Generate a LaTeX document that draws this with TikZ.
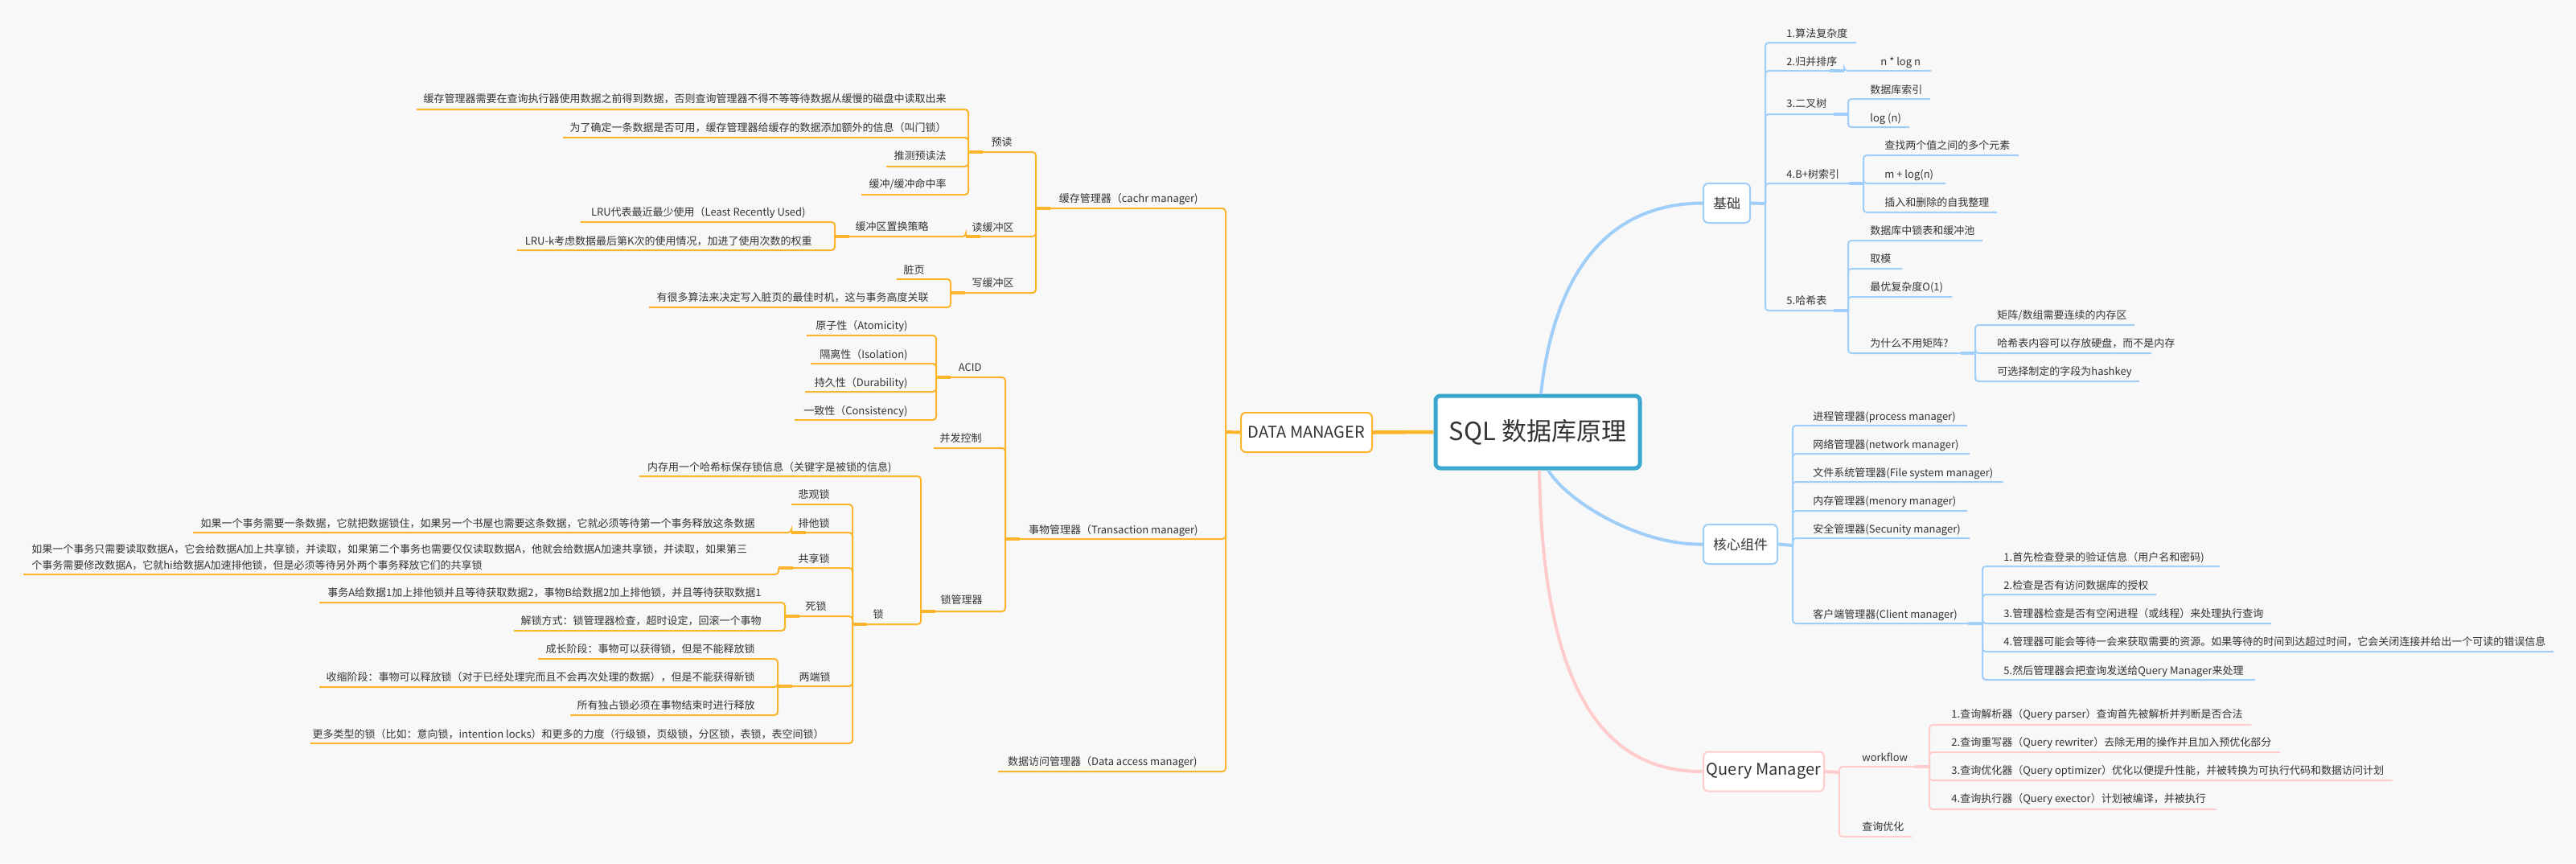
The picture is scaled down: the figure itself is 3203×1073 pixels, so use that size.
\documentclass[tikz,border=0pt]{standalone}
\usepackage{fontspec}
\setmainfont{Noto Sans CJK SC}
\definecolor{bgc}{HTML}{F8F8F8}
\definecolor{txt}{HTML}{333333}
\definecolor{orl}{HTML}{FCB52B}
\definecolor{bll}{HTML}{9FCFF8}
\definecolor{pkl}{HTML}{FFCBCB}
\definecolor{tealc}{HTML}{3BA7CE}
\tikzset{
  lbl/.style={inner sep=0pt, text=txt, font=\fontsize{6.5pt}{8pt}\selectfont, text height=5.4pt, text depth=0.5pt},
  oline/.style={draw=orl, line width=1pt, rounded corners=2pt},
  bline/.style={draw=bll, line width=1pt, rounded corners=2pt},
  pline/.style={draw=pkl, line width=1pt, rounded corners=2pt},
  ostub/.style={draw=orl, line width=2pt},
  bstub/.style={draw=bll, line width=2pt},
  pstub/.style={draw=pkl, line width=2pt},
  boxbase/.style={fill=white, rounded corners=3pt, text=txt, inner sep=0pt, minimum height=24.5pt},
}
\newcommand{\LNode}[7]{%
  \node[lbl, anchor=east] (#1) at (#2,#3) {#7};
  \coordinate (#1-j) at (#4,#5);
  \draw[oline] (#6-j) |- (#1-j);
}
\newcommand{\RNode}[8]{%
  \node[lbl, anchor=west] (#1) at (#2,#3) {#8};
  \coordinate (#1-j) at (#4,#5);
  \draw[#7] (#6-j) |- (#1-j);
}
\newcommand{\LStub}[1]{\draw[ostub] (#1-j) -- ++(18,0);}
\newcommand{\RStub}[2]{\draw[#2] (#1-j) -- ++(-18,0);}
\begin{document}
\begin{tikzpicture}[x=0.5pt,y=-0.5pt]
\fill[bgc] (0,0) rectangle (3203,1073);
\useasboundingbox (0,0) rectangle (3203,1073);

% main boxes
\node[boxbase, draw=tealc, line width=2.5pt, minimum width=127pt, minimum height=45pt, font=\fontsize{15.5pt}{18pt}\selectfont] (root) at (1912,537) {SQL 数据库原理};
\node[boxbase, draw=orl, line width=1pt, minimum width=81.5pt, font=\fontsize{10pt}{12pt}\selectfont] (dm) at (1624.5,537.5) {DATA MANAGER};
\node[boxbase, draw=bll, line width=1pt, minimum width=29pt, font=\fontsize{8.5pt}{10pt}\selectfont] (jichu) at (2147,252.5) {基础};
\node[boxbase, draw=bll, line width=1pt, minimum width=46pt, font=\fontsize{8.5pt}{10pt}\selectfont] (hexin) at (2164,676.5) {核心组件};
\node[boxbase, draw=pkl, line width=1pt, minimum width=75pt, font=\fontsize{10pt}{12pt}\selectfont] (qm) at (2193,959) {Query Manager};

% central connectors
\draw[orl, line width=2.25pt] (root.west) -- (dm.east);
\draw[bll, line width=2pt] ([xshift=2pt]root.north) .. controls (1930,360) and (1985,253) .. (jichu.west);
\draw[bll, line width=2pt] ([xshift=6.5pt]root.south) .. controls (1950,625) and (2040,678) .. (hexin.west);
\draw[pkl, line width=2pt] ([xshift=1pt]root.south) .. controls (1918,850) and (1990,960) .. (qm.west);

% ---------- DATA MANAGER (left, orange) ----------
\coordinate (dm-j) at (1524,537);
\draw[ostub] (dm.west) -- (dm-j);
\LNode{cache}{1490}{247}{1288}{259}{dm}{缓存管理器（cachr manager)}
\LNode{trans}{1490}{659}{1250}{670}{dm}{事物管理器（Transaction manager)}
\LNode{dacc}{1489}{947}{1241}{959}{dm}{数据访问管理器（Data access manager)}
\LStub{cache}\LStub{trans}

\LNode{yudu}{1259}{177}{1204}{189}{cache}{预读}
\LNode{dubuf}{1261}{283}{1201}{294}{cache}{读缓冲区}
\LNode{xiebuf}{1261}{352}{1182}{364}{cache}{写缓冲区}
\LStub{yudu}\LStub{dubuf}\LStub{xiebuf}

\LNode{y1}{1177}{123}{518}{136}{yudu}{缓存管理器需要在查询执行器使用数据之前得到数据，否则查询管理器不得不等等待数据从缓慢的磁盘中读取出来}
\LNode{y2}{1177}{159}{700}{171}{yudu}{为了确定一条数据是否可用，缓存管理器给缓存的数据添加额外的信息（叫门锁）}
\LNode{y3}{1177}{194}{1102}{207}{yudu}{推测预读法}
\LNode{y4}{1177}{229}{1071}{242}{yudu}{缓冲/缓冲命中率}

\LNode{zh}{1155}{282}{1038}{294}{dubuf}{缓冲区置换策略}
\LStub{zh}
\LNode{lru1}{1002}{264}{722}{276}{zh}{LRU代表最近最少使用（Least Recently Used)}
\LNode{lru2}{1010}{300}{643}{311}{zh}{LRU-k考虑数据最后第K次的使用情况，加进了使用次数的权重}

\LNode{zy}{1150}{336}{1115}{347}{xiebuf}{脏页}
\LNode{zy2}{1155}{370}{807}{382}{xiebuf}{有很多算法来决定写入脏页的最佳时机，这与事务高度关联}

\LNode{acid}{1221}{457}{1164}{469}{trans}{ACID}
\LNode{bf}{1221}{545}{1161}{557}{trans}{并发控制}
\LNode{lockm}{1222}{746}{1145}{760}{trans}{锁管理器}
\LStub{acid}\LStub{lockm}

\LNode{a1}{1129}{405}{1003}{417}{acid}{原子性（Atomicity)}
\LNode{a2}{1129}{441}{1008}{452}{acid}{隔离性（Isolation)}
\LNode{a3}{1129}{476}{1001}{487}{acid}{持久性（Durability)}
\LNode{a4}{1129}{511}{988}{522}{acid}{一致性（Consistency)}

\LNode{mem}{1109}{581}{795}{592}{lockm}{内存用一个哈希标保存锁信息（关键字是被锁的信息)}
\LNode{lock}{1099}{764}{1060}{776}{lockm}{锁}
\LStub{lock}

\LNode{bg}{1032}{615}{984}{627}{lock}{悲观锁}
\LNode{pt}{1032}{651}{984}{662}{lock}{排他锁}
\LNode{gx}{1032}{695}{968}{706}{lock}{共享锁}
\LNode{sl}{1028}{754}{976}{766}{lock}{死锁}
\LNode{ld}{1033}{842}{967}{853}{lock}{两端锁}
\LNode{more}{1025}{913}{386}{924}{lock}{更多类型的锁（比如：意向锁，intention locks）和更多的力度（行级锁，页级锁，分区锁，表锁，表空间锁）}
\LStub{pt}\LStub{gx}\LStub{sl}\LStub{ld}

\LNode{pt1}{939}{651}{240}{662}{pt}{如果一个事务需要一条数据，它就把数据锁住，如果另一个书屋也需要这条数据，它就必须等待第一个事务释放这条数据}

\node[inner sep=0pt, text=txt, anchor=west, font=\fontsize{6.5pt}{10pt}\selectfont] (gx1) at (39,693)
  {\begin{tabular}{@{}l@{}}如果一个事务只需要读取数据A，它会给数据A加上共享锁，并读取，如果第二个事务也需要仅仅读取数据A，他就会给数据A加速共享锁，并读取，如果第三\\个事务需要修改数据A，它就hi给数据A加速排他锁，但是必须等待另外两个事务释放它们的共享锁\end{tabular}};
\coordinate (gx1-j) at (29,714);
\draw[oline] (gx-j) |- (gx1-j);

\LNode{sl1}{947}{737}{397}{749}{sl}{事务A给数据1加上排他锁并且等待获取数据2，事物B给数据2加上排他锁，并且等待获取数据1}
\LNode{sl2}{947}{772}{639}{784}{sl}{解锁方式：锁管理器检查，超时设定，回滚一个事物}

\LNode{ld1}{939}{807}{669}{819}{ld}{成长阶段：事物可以获得锁，但是不能释放锁}
\LNode{ld2}{939}{842}{397}{854}{ld}{收缩阶段：事物可以释放锁（对于已经处理完而且不会再次处理的数据），但是不能获得新锁}
\LNode{ld3}{939}{877}{709}{889}{ld}{所有独占锁必须在事物结束时进行释放}

% ---------- 基础 (right, blue) ----------
\coordinate (jc-j) at (2195,253);
\draw[bstub] (jichu.east) -- (jc-j);
\RNode{b1}{2221}{42}{2308}{53}{jc}{bline}{1.算法复杂度}
\RNode{b2}{2221}{77}{2293}{88}{jc}{bline}{2.归并排序}
\RNode{b2a}{2338}{77}{2401}{88}{b2}{bline}{n * log n}
\RNode{b3}{2221}{129}{2298}{142}{jc}{bline}{3.二叉树}
\RNode{b3a}{2325}{112}{2400}{123}{b3}{bline}{数据库索引}
\RNode{b3b}{2325}{147}{2374}{158}{b3}{bline}{log (n)}
\RNode{b4}{2221}{217}{2317}{228}{jc}{bline}{4.B+树索引}
\RNode{b4a}{2343}{181}{2510}{193}{b4}{bline}{查找两个值之间的多个元素}
\RNode{b4b}{2343}{217}{2419}{228}{b4}{bline}{m + log(n)}
\RNode{b4c}{2343}{252}{2483}{264}{b4}{bline}{插入和删除的自我整理}
\RNode{b5}{2221}{374}{2298}{386}{jc}{bline}{5.哈希表}
\RNode{b5a}{2325}{287}{2465}{299}{b5}{bline}{数据库中锁表和缓冲池}
\RNode{b5b}{2325}{322}{2365}{334}{b5}{bline}{取模}
\RNode{b5c}{2325}{357}{2427}{369}{b5}{bline}{最优复杂度O(1)}
\RNode{b5d}{2325}{427}{2456}{439}{b5}{bline}{为什么不用矩阵?}
\RNode{b5d1}{2483}{392}{2654}{404}{b5d}{bline}{矩阵/数组需要连续的内存区}
\RNode{b5d2}{2483}{427}{2675}{439}{b5d}{bline}{哈希表内容可以存放硬盘，而不是内存}
\RNode{b5d3}{2483}{462}{2660}{474}{b5d}{bline}{可选择制定的字段为hashkey}
\RStub{b2}{bstub}\RStub{b3}{bstub}\RStub{b4}{bstub}\RStub{b5}{bstub}\RStub{b5d}{bstub}

% ---------- 核心组件 (right, blue) ----------
\coordinate (hx-j) at (2229,678);
\draw[bstub] (hexin.east) -- (hx-j);
\RNode{c1}{2254}{518}{2446}{529}{hx}{bline}{进程管理器(process manager)}
\RNode{c2}{2254}{553}{2449}{564}{hx}{bline}{网络管理器(network manager)}
\RNode{c3}{2254}{588}{2491}{599}{hx}{bline}{文件系统管理器(File system manager)}
\RNode{c4}{2254}{623}{2446}{635}{hx}{bline}{内存管理器(menory manager)}
\RNode{c5}{2254}{658}{2449}{669}{hx}{bline}{安全管理器(Secunity manager)}
\RNode{c6}{2254}{764}{2465}{775}{hx}{bline}{客户端管理器(Client manager)}
\RStub{c6}{bstub}
\RNode{c6a}{2491}{693}{2760}{704}{c6}{bline}{1.首先检查登录的验证信息（用户名和密码)}
\RNode{c6b}{2491}{728}{2681}{739}{c6}{bline}{2.检查是否有访问数据库的授权}
\RNode{c6c}{2491}{763}{2824}{775}{c6}{bline}{3.管理器检查是否有空闲进程（或线程）来处理执行查询}
\RNode{c6d}{2491}{798}{3175}{810}{c6}{bline}{4.管理器可能会等待一会来获取需要的资源。如果等待的时间到达超过时间，它会关闭连接并给出一个可读的错误信息}
\RNode{c6e}{2491}{834}{2804}{845}{c6}{bline}{5.然后管理器会把查询发送给Query Manager来处理}

% ---------- Query Manager (right, pink) ----------
\coordinate (qm-j) at (2287,960);
\draw[pstub] (qm.east) -- (qm-j);
\RNode{q1}{2315}{942}{2399}{953}{qm}{pline}{workflow}
\RStub{q1}{pstub}
\RNode{q1a}{2426}{888}{2799}{901}{q1}{pline}{1.查询解析器（Query parser）查询首先被解析并判断是否合法}
\RNode{q1b}{2426}{923}{2835}{935}{q1}{pline}{2.查询重写器（Query rewriter）去除无用的操作并且加入预优化部分}
\RNode{q1c}{2426}{958}{2975}{970}{q1}{pline}{3.查询优化器（Query optimizer）优化以便提升性能，并被转换为可执行代码和数据访问计划}
\RNode{q1d}{2426}{993}{2756}{1006}{q1}{pline}{4.查询执行器（Query exector）计划被编译，并被执行}
\RNode{q2}{2315}{1028}{2377}{1040}{qm}{pline}{查询优化}
\end{tikzpicture}
\end{document}
